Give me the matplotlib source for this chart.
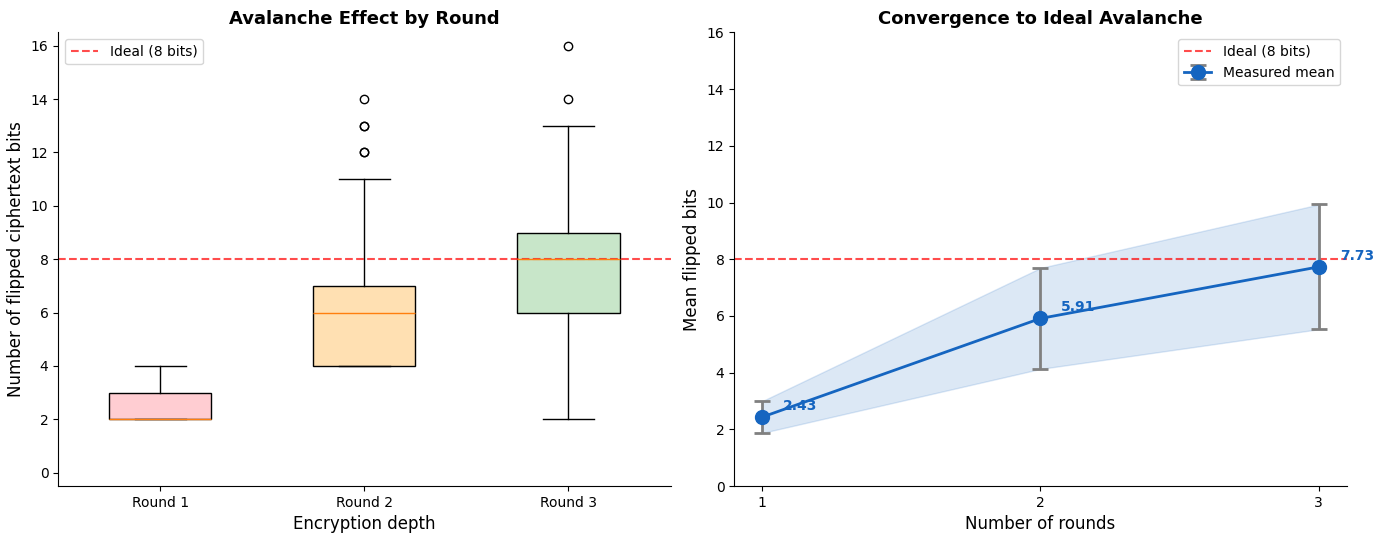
import numpy as np
import matplotlib.pyplot as plt

# Dados
rotulos = ["Round 1", "Round 2", "Round 3"]
q1 = [2, 4, 6]
mediana = [2, 6, 8]
q3 = [3, 7, 9]
bigode_inf = [2, 4, 2]
bigode_sup = [4, 11, 13]
outliers = [[], [12, 12, 13, 13, 14], [14, 16]]
cores_caixa = ["#ffcdd2", "#ffe0b2", "#c8e6c9"]

rodadas = np.array([1, 2, 3])
media = np.array([2.43, 5.91, 7.73])
desvio = np.array([0.56, 1.78, 2.20])
ideal = 8

azul = "#1565c0"

fig, (ax1, ax2) = plt.subplots(1, 2, figsize=(13.84, 5.4), dpi=100)

# Boxplot por rodada
stats = []
for i in range(len(rotulos)):
    stats.append({
        "label": rotulos[i], "q1": q1[i], "med": mediana[i], "q3": q3[i],
        "whislo": bigode_inf[i], "whishi": bigode_sup[i], "fliers": outliers[i],
    })
bp = ax1.bxp(stats, widths=0.5, patch_artist=True)
for caixa, cor in zip(bp["boxes"], cores_caixa):
    caixa.set_facecolor(cor)
    caixa.set_edgecolor("black")
ax1.axhline(ideal, color="red", linestyle="--", alpha=0.7, linewidth=1.5, label="Ideal (8 bits)")
ax1.set_ylim(-0.5, 16.5)
ax1.set_yticks(range(0, 17, 2))
ax1.set_xlabel("Encryption depth", fontsize=12)
ax1.set_ylabel("Number of flipped ciphertext bits", fontsize=12)
ax1.set_title("Avalanche Effect by Round", fontsize=13, fontweight="bold")
ax1.legend(loc="upper left")
ax1.spines["top"].set_visible(False)
ax1.spines["right"].set_visible(False)

# Convergência da média
ax2.axhline(ideal, color="red", linestyle="--", alpha=0.7, linewidth=1.5, label="Ideal (8 bits)")
ax2.fill_between(rodadas, media - desvio, media + desvio, color=azul, alpha=0.15)
ax2.errorbar(rodadas, media, yerr=desvio, color=azul, marker="o", markersize=10,
             linewidth=2, ecolor="gray", elinewidth=2, capsize=6, capthick=2,
             label="Measured mean")
for x, m in zip(rodadas, media):
    ax2.text(x + 0.075, m + 0.4, f"{m:.2f}", color=azul, fontsize=10,
             fontweight="bold", va="center")
ax2.set_ylim(0, 16)
ax2.set_xticks(rodadas)
ax2.set_xlabel("Number of rounds", fontsize=12)
ax2.set_ylabel("Mean flipped bits", fontsize=12)
ax2.set_title("Convergence to Ideal Avalanche", fontsize=13, fontweight="bold")
ax2.legend(loc="upper right")
ax2.spines["top"].set_visible(False)
ax2.spines["right"].set_visible(False)

plt.subplots_adjust(left=0.042, right=0.973, bottom=0.1, top=0.94, wspace=0.104)
plt.savefig("out.png")
